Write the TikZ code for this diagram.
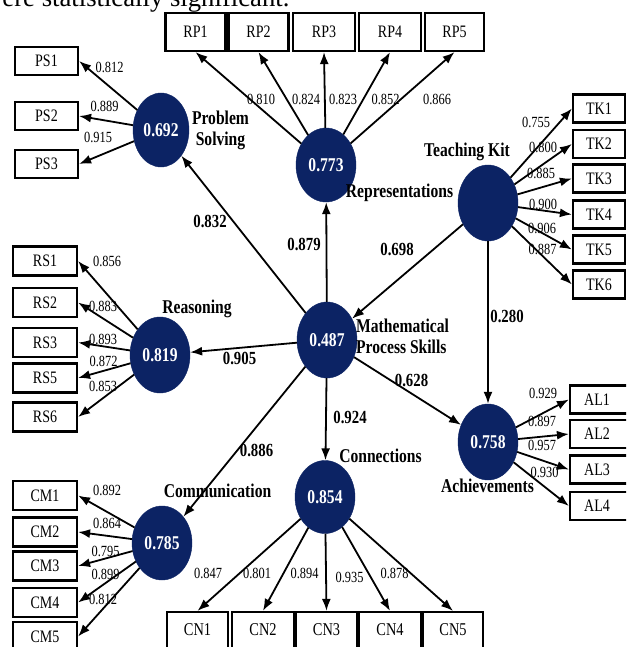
\documentclass[tikz,border=0pt]{standalone}
\usepackage{fontspec}
\setmainfont{Liberation Serif}[FakeStretch=0.8]
\newfontfamily\bodyfont{Liberation Serif}
\usetikzlibrary{shapes.geometric,arrows.meta}
\definecolor{navy}{RGB}{12,35,100}
\begin{document}
\begin{tikzpicture}[x=1pt,y=-1pt,
 lv/.style={ellipse,fill=navy,draw=navy,text=white,inner sep=0pt,minimum width=60pt,minimum height=76pt,font=\fontsize{19.5}{20}\selectfont\bfseries},
 ind/.style={draw,line width=2.2pt,minimum width=62pt,minimum height=28pt,inner sep=0pt,font=\fontsize{17.5}{18}\selectfont},
 arr/.style={line width=1.8pt,-{Latex[length=12pt,width=9pt]}},
 ld/.style={font=\fontsize{15.5}{15.5}\selectfont,inner sep=0pt},
 pc/.style={font=\fontsize{18.5}{19}\selectfont\bfseries,inner sep=0pt},
 cname/.style={font=\fontsize{19.5}{21}\selectfont\bfseries,inner sep=0pt}]
\useasboundingbox (0,0) rectangle (626,647);
\clip (0,0) rectangle (626,647);
\fill[white] (0,0) rectangle (626,647);

\node[anchor=base west,font=\bodyfont\fontsize{26.7}{27}\selectfont,inner sep=0pt] (toptext) at (-17,6.5) {were statistically significant.};

% latent variables
\node[lv,minimum width=56pt,minimum height=74pt] (PS) at (161,130) {0.692};
\node[lv,minimum height=74pt] (RP) at (326,165) {0.773};
\node[lv] (TK) at (488,203) {};
\node[lv] (MPS) at (327,340) {0.487};
\node[lv] (RS) at (160,355) {0.819};
\node[lv,minimum height=74pt] (CM) at (162,543) {0.785};
\node[lv,minimum height=73pt] (CN) at (325,497) {0.854};
\node[lv] (ACH) at (488,442) {0.758};

% construct names
\node[cname,align=center] (lPS) at (220.5,130) {Problem\\Solving};
\node[cname] (lRP) at (399.5,193) {Representations};
\node[cname] (lTK) at (467,152) {Teaching Kit};
\node[cname] (lRS) at (197,309) {Reasoning};
\node[cname,align=left,anchor=west] (lMPS) at (356,336) {Mathematical\\Process Skills};
\node[cname] (lCN) at (380.5,456) {Connections};
\node[cname] (lACH) at (487.5,486) {Achievements};
\node[cname] (lCM) at (217.5,491) {Communication};

% indicators
\node[ind,minimum width=63pt] (PS1) at (46.5,61) {PS1};
\node[ind,minimum width=63pt] (PS2) at (46.5,116) {PS2};
\node[ind,minimum width=63pt] (PS3) at (46.5,164) {PS3};

\node[ind,minimum width=60pt,minimum height=38pt] (RP1) at (195.5,32) {RP1};
\node[ind,minimum width=60pt,minimum height=38pt] (RP2) at (258.5,32) {RP2};
\node[ind,minimum width=62pt,minimum height=38pt] (RP3) at (324,32) {RP3};
\node[ind,minimum width=62pt,minimum height=38pt] (RP4) at (390,32) {RP4};
\node[ind,minimum width=59pt,minimum height=38pt] (RP5) at (454.5,32) {RP5};

\node[ind,minimum width=52pt] (TK1) at (599,108.5) {TK1};
\node[ind,minimum width=52pt] (TK2) at (599,144) {TK2};
\node[ind,minimum width=52pt] (TK3) at (599,178.5) {TK3};
\node[ind,minimum width=52pt] (TK4) at (599,214.5) {TK4};
\node[ind,minimum width=52pt] (TK5) at (599,249.5) {TK5};
\node[ind,minimum width=52pt] (TK6) at (599,284.5) {TK6};

\node[ind,minimum width=64pt,minimum height=29pt] (RS1) at (45,261) {RS1};
\node[ind,minimum width=64pt,minimum height=29pt] (RS2) at (45,302.5) {RS2};
\node[ind,minimum width=64pt,minimum height=29pt] (RS3) at (45,342.5) {RS3};
\node[ind,minimum width=64pt,minimum height=29pt] (RS5) at (45,378) {RS5};
\node[ind,minimum width=64pt,minimum height=29pt] (RS6) at (45,417) {RS6};

\node[ind,minimum width=64pt,minimum height=29pt] (CM1) at (45,495.5) {CM1};
\node[ind,minimum width=64pt,minimum height=29pt] (CM2) at (45,532) {CM2};
\node[ind,minimum width=64pt,minimum height=29pt] (CM3) at (45,566) {CM3};
\node[ind,minimum width=64pt,minimum height=29pt] (CM4) at (45,602.5) {CM4};
\node[ind,minimum width=64pt,minimum height=29pt] (CM5) at (45,636.5) {CM5};

\node[ind,minimum width=61pt,minimum height=40pt,font=\fontsize{18}{18}\selectfont] (CN1) at (197.5,632) {\raisebox{5pt}{CN1}};
\node[ind,minimum width=62pt,minimum height=40pt,font=\fontsize{18}{18}\selectfont] (CN2) at (263,632) {\raisebox{5pt}{CN2}};
\node[ind,minimum width=61pt,minimum height=40pt,font=\fontsize{18}{18}\selectfont] (CN3) at (326.5,632) {\raisebox{5pt}{CN3}};
\node[ind,minimum width=62pt,minimum height=40pt,font=\fontsize{18}{18}\selectfont] (CN4) at (390,632) {\raisebox{5pt}{CN4}};
\node[ind,minimum width=60pt,minimum height=40pt,font=\fontsize{18}{18}\selectfont] (CN5) at (453,632) {\raisebox{5pt}{CN5}};

\node[ind,minimum width=60pt] (AL1) at (600,399.5) {\hspace*{-6pt}AL1};
\node[ind,minimum width=60pt] (AL2) at (600,434) {\hspace*{-6pt}AL2};
\node[ind,minimum width=60pt] (AL3) at (600,469.5) {\hspace*{-6pt}AL3};
\node[ind,minimum width=60pt] (AL4) at (600,506) {\hspace*{-6pt}AL4};

% structural paths
\draw[arr] (MPS) -- (PS);
\draw[arr] (MPS) -- (RP);
\draw[arr] (TK) -- (MPS);
\draw[arr] (MPS) -- (RS);
\draw[arr] (TK) -- (ACH);
\draw[arr] (MPS) -- (ACH);
\draw[arr] (MPS) -- (CN);
\draw[arr] (MPS) -- (CM);

% measurement paths
\foreach \i in {1,2,3} \draw[arr] (PS) -- (PS\i.east);
\foreach \i in {1,...,5} \draw[arr] (RP) -- (RP\i.south);
\foreach \i in {1,...,6} \draw[arr] (TK) -- (TK\i.west);
\foreach \i in {1,2,3,5,6} \draw[arr] (RS) -- (RS\i.east);
\foreach \i in {1,...,5} \draw[arr] (CM) -- (CM\i.east);
\foreach \i in {1,...,5} \draw[arr] (CN) -- (CN\i.north);
\foreach \i in {1,...,4} \draw[arr] (ACH) -- (AL\i.west);

% loadings
\node[ld] at (109.5,67) {0.812};
\node[ld] at (104.5,106) {0.889};
\node[ld] at (98,137.5) {0.915};

\node[ld] at (261,99) {0.810};
\node[ld] at (306,99) {0.824};
\node[ld] at (343,99) {0.823};
\node[ld] at (385.5,99) {0.852};
\node[ld] at (437,99) {0.866};

\node[ld] at (536,122.5) {0.755};
\node[ld] at (543,147.5) {0.800};
\node[ld] at (541,173.5) {0.885};
\node[ld] at (543,204) {0.900};
\node[ld] at (542,228.5) {0.906};
\node[ld] at (542.5,249) {0.887};

\node[ld] at (107,261.5) {0.856};
\node[ld] at (103,306.5) {0.883};
\node[ld] at (103,339) {0.893};
\node[ld] at (103.5,361.5) {0.872};
\node[ld] at (103,386.5) {0.853};

\node[ld] at (107,490.5) {0.892};
\node[ld] at (107,523) {0.864};
\node[ld] at (105.5,551) {0.795};
\node[ld] at (105.5,574.5) {0.899};
\node[ld] at (103,599) {0.812};

\node[ld] at (208,573.5) {0.847};
\node[ld] at (257,573.5) {0.801};
\node[ld] at (304.5,573.5) {0.894};
\node[ld] at (349.5,577) {0.935};
\node[ld] at (394.5,573.5) {0.878};

\node[ld] at (543,393.5) {0.929};
\node[ld] at (542,421) {0.897};
\node[ld] at (542,445) {0.957};
\node[ld] at (544.5,472.5) {0.930};

% path coefficients
\node[pc] at (210,221.5) {0.832};
\node[pc] at (304,244) {0.879};
\node[pc] at (397,249.5) {0.698};
\node[pc] at (239.5,358.5) {0.905};
\node[pc] at (507,316.5) {0.280};
\node[pc] at (411.5,380.5) {0.628};
\node[pc] at (350,417) {0.924};
\node[pc] at (256.5,450) {0.886};
\end{tikzpicture}
\end{document}
